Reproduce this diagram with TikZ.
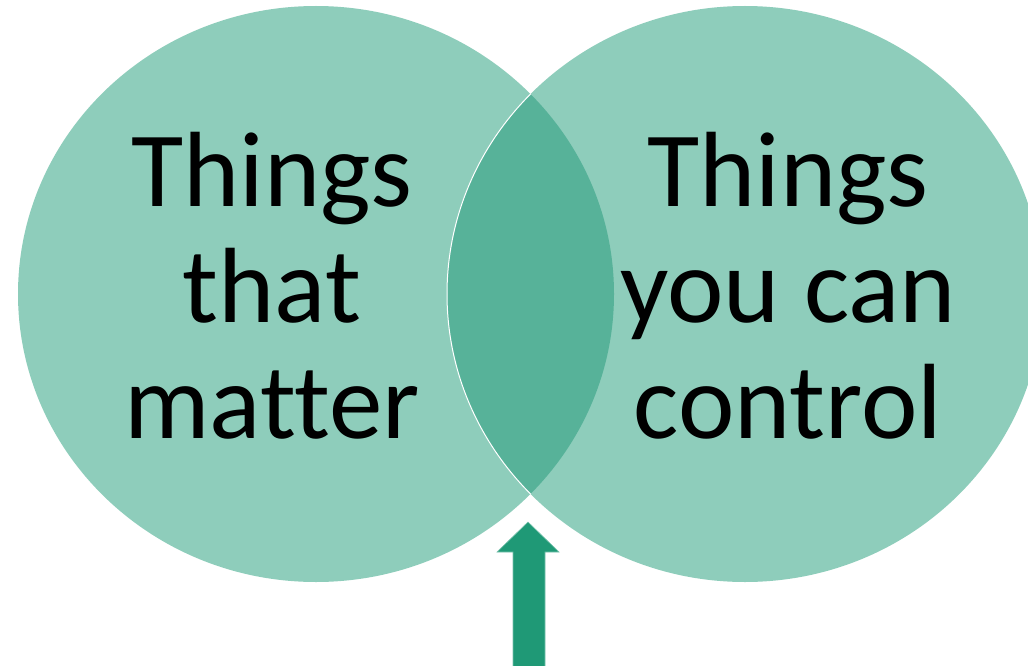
\documentclass[tikz,border=0pt]{standalone}
\usepackage{fontspec}
\setmainfont{Carlito}[Ligatures={NoCommon}]
\usetikzlibrary{shapes.geometric}
\definecolor{circfill}{HTML}{8ECDBB}
\definecolor{lensfill}{HTML}{57B299}
\definecolor{arrowfill}{HTML}{1F9976}
\tikzset{
  circshape/.style={ellipse, fill=circfill, inner sep=0pt, minimum width=596pt, minimum height=576pt},
  label/.style={align=center, text=black, inner sep=0pt, font=\fontsize{107}{116}\selectfont},
}
\begin{document}
\begin{tikzpicture}[x=1pt,y=-1pt]
\useasboundingbox (0,0) rectangle (1028,666);
\clip (0,0) rectangle (1028,666);
\node[circshape] (L) at (316,294) {};
\node[circshape] (R) at (745,294) {};
\begin{scope}
  \clip (316,294) ellipse [x radius=298pt, y radius=288pt];
  \fill[lensfill] (745,294) ellipse [x radius=298pt, y radius=288pt];
\end{scope}
\begin{scope}
  \clip (316,294) ellipse [x radius=298pt, y radius=288pt];
  \draw[white, line width=1pt] (745,294) ellipse [x radius=298pt, y radius=288pt];
\end{scope}
\node[label] (tl) at (272,286) {Things\\that\\matter};
\node[label] (tr) at (788,286) {Things\\you can\\control};
\coordinate (tip) at (528,522);
\fill[arrowfill, draw=arrowfill!60!white, line width=0.6pt]
  (tip) -- (559,552) -- (545,552) -- (545,670) -- (513,670) -- (513,552) -- (497,552) -- cycle;
\end{tikzpicture}
\end{document}
